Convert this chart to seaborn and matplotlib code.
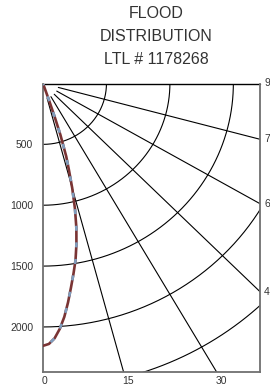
import numpy as np
import matplotlib
matplotlib.use("Agg")
import matplotlib.pyplot as plt
import seaborn as sns
import pandas as pd

# ---- data ----
title_lines = ["FLOOD", "DISTRIBUTION", "LTL # 1178268"]
angles_deg = [0, 1.25, 2.5, 3.75, 5, 6.25, 7.5, 8.75, 10, 11.25, 12.5, 13.75,
              15, 16, 17, 18, 18.5, 19, 19.5]
candela = [2155, 2140, 2095, 2020, 1925, 1810, 1690, 1580, 1475, 1350, 1215, 1060,
           890, 745, 625, 445, 300, 150, 0]
arc_radii = [500, 1000, 1500, 2000, 2500]
radial_angles = [15, 30, 45, 60, 75]
y_ticks = [500, 1000, 1500, 2000]
bottom_labels = ["0", "15", "30"]
bottom_angles = [0, 15, 30]
right_labels = ["9", "7", "6", "4"]
right_angles = [90, 75, 60, 45]
x_max = 1710
y_max = 2370

# ---- style ----
sns.set_style("white")
plt.rcParams['font.family'] = ['Liberation Sans', 'DejaVu Sans']
text_col = "#333333"
spine_col = "#707070"
red = "#7a3434"
blue = "#7f9dbd"

W, H = 270, 385
fig = plt.figure(figsize=(W / 100, H / 100), dpi=100)
fig.patch.set_facecolor("white")
left, right, top, bottom = 43, 260, 83.5, 372
ax = fig.add_axes([left / W, 1 - bottom / H, (right - left) / W, (bottom - top) / H])
ax.set_xlim(0, x_max)
ax.set_ylim(y_max, 0)

# arcs
theta = np.radians(np.linspace(0, 90, 200))
for r in arc_radii:
    ax.plot(r * np.sin(theta), r * np.cos(theta), color="black", lw=0.8, zorder=2)

# radial lines
r0, r1 = 125, 5000
for a in radial_angles:
    t = np.radians(a)
    ax.plot([r0 * np.sin(t), r1 * np.sin(t)], [r0 * np.cos(t), r1 * np.cos(t)],
            color="black", lw=0.8, zorder=2)
ax.plot([0, x_max], [0, 0], color="black", lw=1.0, zorder=2, clip_on=False)

# candela curve
t = np.radians(angles_deg)
c = np.array(candela)
df = pd.DataFrame({"x": c * np.sin(t), "y": c * np.cos(t)})
sns.lineplot(data=df, x="x", y="y", sort=False, estimator=None, color=red,
             lw=1.9, ax=ax, zorder=4, solid_capstyle="round")
sns.lineplot(data=df, x="x", y="y", sort=False, estimator=None, color=blue,
             lw=1.9, ax=ax, zorder=5, linestyle=(3, (1.9, 4.4)), dash_capstyle="butt")
ax.set_xlim(0, x_max)
ax.set_ylim(y_max, 0)

# axes styling
for s in ["left", "right", "bottom"]:
    ax.spines[s].set_color(spine_col)
    ax.spines[s].set_linewidth(1.3)
ax.spines["top"].set_visible(False)
ax.set_xlabel("")
ax.set_ylabel("")
ax.set_yticks(y_ticks)
ax.set_yticklabels([str(v) for v in y_ticks])
ax.set_xticks([])
ax.tick_params(axis="y", length=0, pad=7, labelsize=7.5, labelcolor=text_col)

# bottom labels (angles from vertical)
for lab, a in zip(bottom_labels, bottom_angles):
    ax.annotate(lab, xy=(y_max * np.tan(np.radians(a)), y_max), xytext=(-1, -3),
                textcoords="offset points", ha="left", va="top",
                fontsize=7.5, color=text_col, annotation_clip=False)

# right labels
for lab, a in zip(right_labels, right_angles):
    yy = x_max / np.tan(np.radians(a)) if a != 90 else 0
    ax.annotate(lab, xy=(x_max, yy), xytext=(3, 0), textcoords="offset points",
                ha="left", va="center", fontsize=7.5, color=text_col,
                annotation_clip=False)

# title
for i, line in enumerate(title_lines):
    fig.text(156 / W, 1 - (14 + 22.5 * i) / H, line, ha="center", va="center",
             fontsize=11.5, color=text_col)

fig.savefig("out.png", dpi=100, facecolor="white")
